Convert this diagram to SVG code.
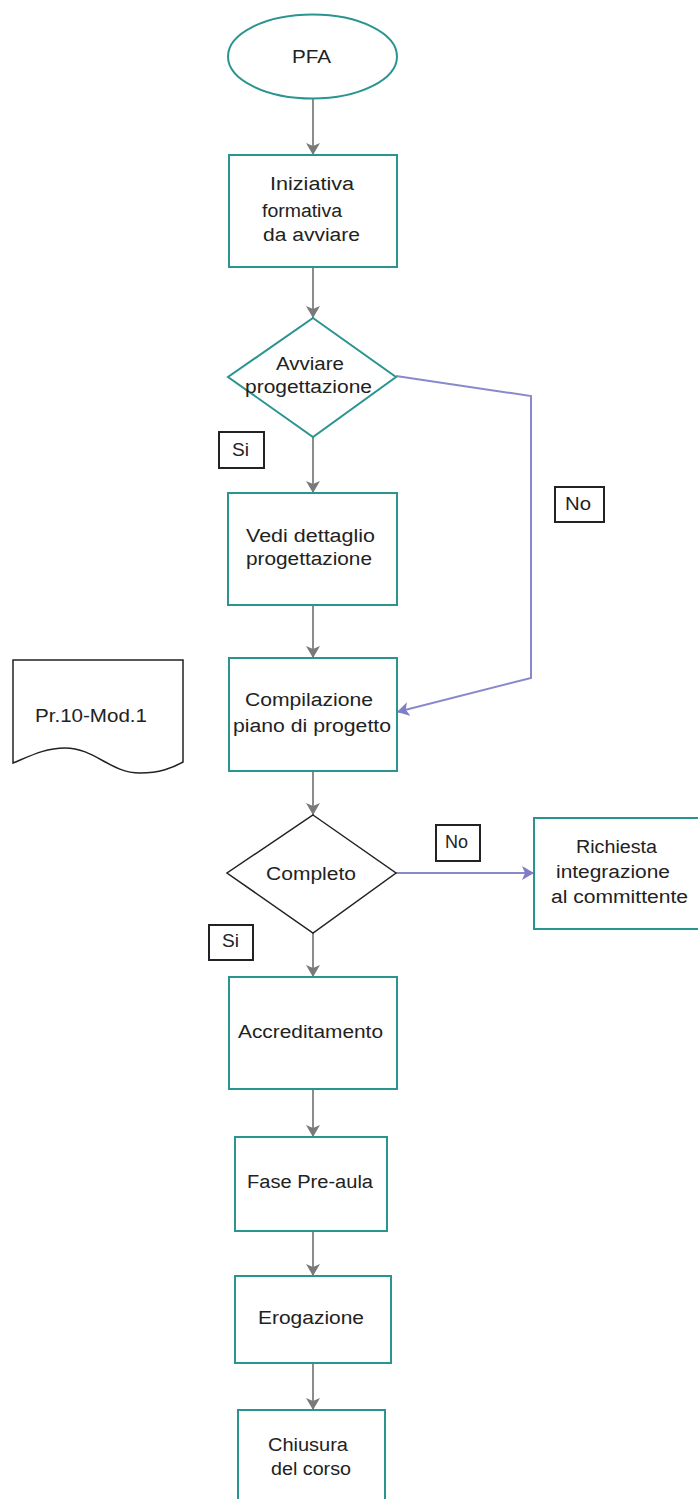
<svg xmlns="http://www.w3.org/2000/svg" width="698" height="1499" viewBox="0 0 698 1499">
<style>
text{font-family:"Liberation Sans",Arial,sans-serif;font-size:18px;fill:#222}
.box{fill:#fff;stroke:#2a9490;stroke-width:2}
.blk{fill:#fff;stroke:#222;stroke-width:1.5}
.lbl{fill:#fff;stroke:#222;stroke-width:2}
.g{fill:none;stroke:#8c8c8c;stroke-width:2}
.p{fill:none;stroke:#8a88cc;stroke-width:2}
</style>
<defs>
<marker id="ag" markerWidth="13" markerHeight="14" refX="12" refY="7" orient="auto" markerUnits="userSpaceOnUse">
<path d="M0,0 L12,7 L0,14 L3,7 Z" fill="#7a7a7a"/>
</marker>
<marker id="ap" markerWidth="13" markerHeight="14" refX="12" refY="7" orient="auto" markerUnits="userSpaceOnUse">
<path d="M0,0 L12,7 L0,14 L3,7 Z" fill="#7f7dc6"/>
</marker>
</defs>
<g id="connectors">
<line class="g" x1="313" y1="99" x2="313" y2="155" marker-end="url(#ag)"/>
<line class="g" x1="313" y1="267" x2="313" y2="318" marker-end="url(#ag)"/>
<line class="g" x1="313" y1="437" x2="313" y2="493" marker-end="url(#ag)"/>
<line class="g" x1="313" y1="605" x2="313" y2="658" marker-end="url(#ag)"/>
<line class="g" x1="313" y1="771" x2="313" y2="815" marker-end="url(#ag)"/>
<line class="g" x1="313" y1="933" x2="313" y2="977" marker-end="url(#ag)"/>
<line class="g" x1="313" y1="1089" x2="313" y2="1137" marker-end="url(#ag)"/>
<line class="g" x1="313" y1="1231" x2="313" y2="1276" marker-end="url(#ag)"/>
<line class="g" x1="313" y1="1363" x2="313" y2="1410" marker-end="url(#ag)"/>
<polyline class="p" points="396,376 531,396 531,678 397,712" marker-end="url(#ap)"/>
<line class="p" x1="396" y1="873" x2="534" y2="873" marker-end="url(#ap)"/>
</g>
<g id="pfa">
<ellipse class="box" cx="312.5" cy="56.5" rx="84.5" ry="42"/>
<text x="292" y="63" textLength="39" lengthAdjust="spacingAndGlyphs">PFA</text>
</g>
<g id="iniziativa">
<rect class="box" x="229" y="155" width="168" height="112"/>
<text x="270" y="190" textLength="84" lengthAdjust="spacingAndGlyphs">Iniziativa</text>
<text x="262" y="217" textLength="80" lengthAdjust="spacingAndGlyphs">formativa</text>
<text x="263" y="241" textLength="97" lengthAdjust="spacingAndGlyphs">da avviare</text>
</g>
<g id="avviare">
<polygon class="box" points="313,318 396,377 313,437 228,377"/>
<text x="276" y="370" textLength="68" lengthAdjust="spacingAndGlyphs">Avviare</text>
<text x="245" y="393" textLength="127" lengthAdjust="spacingAndGlyphs">progettazione</text>
</g>
<g id="si1">
<rect class="lbl" x="219" y="432" width="45" height="36"/>
<text x="232" y="456" textLength="17" lengthAdjust="spacingAndGlyphs">Si</text>
</g>
<g id="no1">
<rect class="lbl" x="555" y="487" width="49" height="35"/>
<text x="565" y="510" textLength="26" lengthAdjust="spacingAndGlyphs">No</text>
</g>
<g id="vedi">
<rect class="box" x="228" y="493" width="169" height="112"/>
<text x="246" y="542" textLength="129" lengthAdjust="spacingAndGlyphs">Vedi dettaglio</text>
<text x="246" y="565" textLength="126" lengthAdjust="spacingAndGlyphs">progettazione</text>
</g>
<g id="doc">
<path class="blk" d="M13,660 H183 V762 C172,768 160,773 140,773 C110,773 95,748 65,748 C45,748 30,756 13,763 Z"/>
<text x="35" y="722" textLength="112" lengthAdjust="spacingAndGlyphs">Pr.10-Mod.1</text>
</g>
<g id="compilazione">
<rect class="box" x="229" y="658" width="168" height="113"/>
<text x="245" y="706" textLength="128" lengthAdjust="spacingAndGlyphs">Compilazione</text>
<text x="233" y="732" textLength="158" lengthAdjust="spacingAndGlyphs">piano di progetto</text>
</g>
<g id="completo">
<polygon class="blk" points="313,815 396,873 313,933 227,873"/>
<text x="266" y="880" textLength="90" lengthAdjust="spacingAndGlyphs">Completo</text>
</g>
<g id="no2">
<rect class="lbl" x="436" y="825" width="44" height="36"/>
<text x="445" y="848" textLength="23" lengthAdjust="spacingAndGlyphs">No</text>
</g>
<g id="richiesta">
<rect class="box" x="534" y="818" width="170" height="111"/>
<text x="576" y="853" textLength="81" lengthAdjust="spacingAndGlyphs">Richiesta</text>
<text x="556" y="878" textLength="114" lengthAdjust="spacingAndGlyphs">integrazione</text>
<text x="551" y="903" textLength="137" lengthAdjust="spacingAndGlyphs">al committente</text>
</g>
<g id="si2">
<rect class="lbl" x="209" y="925" width="44" height="35"/>
<text x="222" y="947" textLength="17" lengthAdjust="spacingAndGlyphs">Si</text>
</g>
<g id="accreditamento">
<rect class="box" x="229" y="977" width="168" height="112"/>
<text x="238" y="1038" textLength="145" lengthAdjust="spacingAndGlyphs">Accreditamento</text>
</g>
<g id="preaula">
<rect class="box" x="235" y="1137" width="152" height="94"/>
<text x="247" y="1188" textLength="126" lengthAdjust="spacingAndGlyphs">Fase Pre-aula</text>
</g>
<g id="erogazione">
<rect class="box" x="235" y="1276" width="156" height="87"/>
<text x="258" y="1324" textLength="106" lengthAdjust="spacingAndGlyphs">Erogazione</text>
</g>
<g id="chiusura">
<rect class="box" x="238" y="1410" width="147" height="100"/>
<text x="268" y="1451" textLength="80" lengthAdjust="spacingAndGlyphs">Chiusura</text>
<text x="271" y="1475" textLength="80" lengthAdjust="spacingAndGlyphs">del corso</text>
</g>
</svg>
